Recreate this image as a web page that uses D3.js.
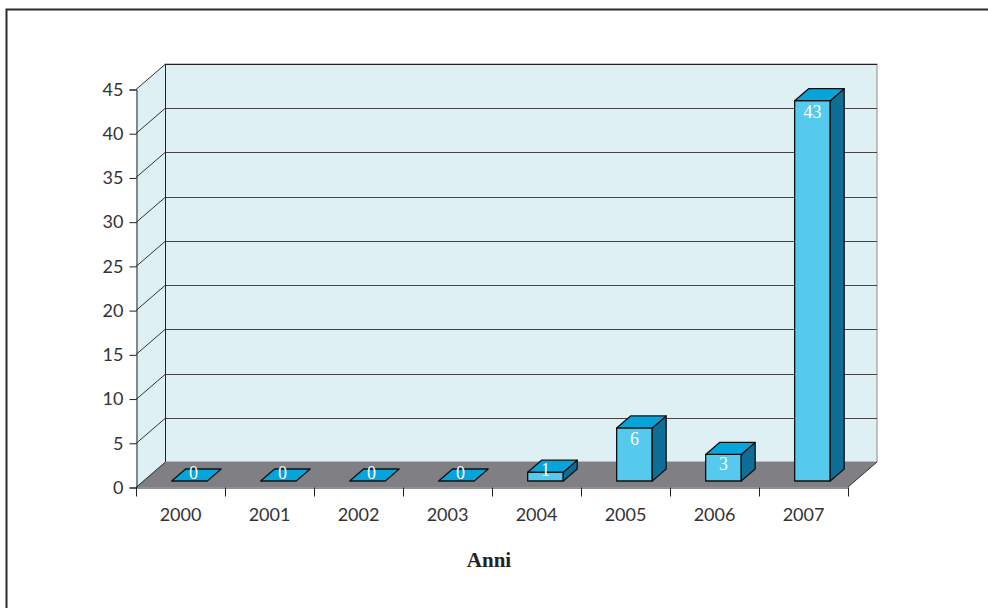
<!DOCTYPE html>
<html>
<head>
<meta charset="utf-8">
<script src="https://cdn.jsdelivr.net/npm/d3@7"></script>
<style>
  html, body { margin: 0; padding: 0; background: #fff; }
  svg { display: block; }
</style>
</head>
<body>
<script>
// Yearly counts
const years = ["2000", "2001", "2002", "2003", "2004", "2005", "2006", "2007"];
const counts = [0, 0, 0, 0, 1, 6, 3, 43];
const yTicks = [0, 5, 10, 15, 20, 25, 30, 35, 40, 45];
const xTitle = "Anni";

const W = 988, H = 608;
const svg = d3.select("body").append("svg").attr("width", W).attr("height", H);

// outer frame (top + left edges visible)
svg.append("path").attr("d", "M6.5,608 L6.5,9.5 L988,9.5")
  .attr("fill", "none").attr("stroke", "#2b2b2b").attr("stroke-width", 2);

// front plane scales
const x = d3.scaleBand().domain(years).range([136, 848]);
const y = d3.scaleLinear().domain([0, 45]).range([487, 89]);

// depth offset of the 3D box
const DX = 29, DY = -25;
const off = (d) => [DX * d, DY * d];

const [bx, by] = off(1);
const x0 = 136, x1 = 848;
const yTop = y(45), yBase = y(0);

// back wall
svg.append("rect")
  .attr("x", x0 + bx).attr("y", yTop + by)
  .attr("width", x1 - x0).attr("height", yBase - yTop)
  .attr("fill", "#dff0f5").attr("stroke", "#8a8a8a").attr("stroke-width", 1);

// left side wall
svg.append("polygon")
  .attr("points", [[x0, yTop], [x0 + bx, yTop + by], [x0 + bx, yBase + by], [x0, yBase]].join(" "))
  .attr("fill", "#dff0f5");

// floor
svg.append("polygon")
  .attr("points", [[x0, yBase], [x0 + bx, yBase + by], [x1 + bx, yBase + by], [x1, yBase]].join(" "))
  .attr("fill", "#807f84");

// gridlines: back wall + side wall diagonals
const grid = svg.append("g").attr("stroke", "#333").attr("stroke-width", 1).attr("fill", "none");
yTicks.forEach(t => {
  const yy = Math.round(y(t)) + 0.5;
  if (t > 0) {
    grid.append("line").attr("x1", x0 + bx).attr("x2", x1 + bx)
      .attr("y1", yy + by).attr("y2", yy + by).attr("stroke", t === 45 ? "#222" : "#444");
  }
  grid.append("line").attr("x1", x0).attr("y1", yy).attr("x2", x0 + bx).attr("y2", yy + by);
});
// back wall left edge
grid.append("line").attr("x1", x0 + bx + 0.5).attr("x2", x0 + bx + 0.5)
  .attr("y1", yTop + by).attr("y2", yBase + by).attr("stroke", "#222");
// floor right edge
svg.append("line").attr("x1", x1).attr("y1", yBase).attr("x2", x1 + bx).attr("y2", yBase + by)
  .attr("stroke", "#333").attr("stroke-width", 1);

// bars
const dFront = 0.24, dBack = 0.72;
const bw = x.bandwidth() * 0.4;
const bars = svg.append("g");
years.forEach((yr, i) => {
  const v = counts[i];
  const [fx, fy] = off(dFront);
  const [kx, ky] = off(dBack);
  const cx = x(yr) + x.bandwidth() / 2 + fx + 2;
  const l = cx - bw / 2, r = cx + bw / 2;
  const base = yBase + fy;
  const top = y(v) + fy;
  const ddx = kx - fx, ddy = ky - fy;
  const st = { stroke: "#111", "stroke-width": 1.3, "stroke-linejoin": "round" };
  const poly = (pts, fill) => {
    const p = bars.append("polygon").attr("points", pts.join(" ")).attr("fill", fill);
    Object.entries(st).forEach(([k, val]) => p.attr(k, val));
  };
  if (v > 0) {
    poly([[l, top], [r, top], [r, base], [l, base]], "#55c9ee");
    poly([[r, top], [r + ddx, top + ddy], [r + ddx, base + ddy], [r, base]], "#0e6e97");
  }
  poly([[l, top], [l + ddx, top + ddy], [r + ddx, top + ddy], [r, top]], "#05a4db");

  const ty = Math.min(top + 17, base - 2 - 3 * v);
  bars.append("text")
    .attr("x", v > 0 ? cx : cx + 4).attr("y", ty)
    .attr("text-anchor", "middle")
    .attr("font-family", "Liberation Serif, serif")
    .attr("font-size", 18)
    .attr("fill", "#fff")
    .text(v);
});

// y axis (front)
const yAxis = d3.axisLeft(y).tickValues(yTicks).tickSize(7).tickPadding(6).tickFormat(d3.format("d"));
const ya = svg.append("g").attr("transform", `translate(${x0 + 0.5},0.5)`).call(yAxis);
ya.select(".domain").attr("stroke", "#222");
ya.selectAll(".tick line").attr("stroke", "#222");
ya.selectAll("text").attr("font-family", "Lato, sans-serif").attr("font-size", 18).attr("fill", "#333");

// x axis (front floor edge)
const xAxis = d3.axisBottom(x).tickSize(0).tickPadding(21);
const xa = svg.append("g").attr("transform", `translate(0,${yBase + 0.5})`).call(xAxis);
xa.select(".domain").attr("stroke", "#222");
xa.selectAll("text").attr("font-family", "Lato, sans-serif").attr("font-size", 18).attr("fill", "#333");
// category separators
const seps = [x0, ...years.map(d => x(d) + x.bandwidth())];
xa.selectAll(".sep").data(seps).enter().append("line")
  .attr("x1", d => Math.round(d) + 0.5).attr("x2", d => Math.round(d) + 0.5)
  .attr("y1", 0).attr("y2", 9).attr("stroke", "#222");

// axis title
svg.append("text")
  .attr("x", 489).attr("y", 567)
  .attr("text-anchor", "middle")
  .attr("font-family", "Liberation Serif, serif")
  .attr("font-weight", "bold")
  .attr("font-size", 21)
  .attr("fill", "#222")
  .text(xTitle);
</script>
</body>
</html>
